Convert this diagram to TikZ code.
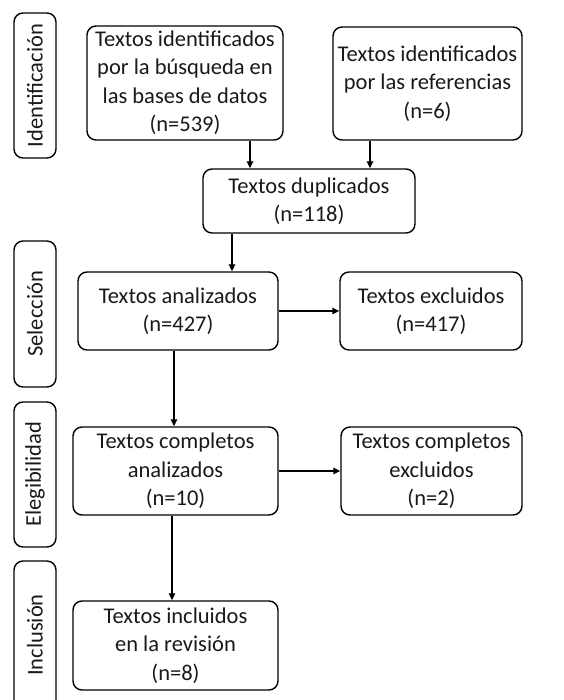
\documentclass[tikz,border=0pt]{standalone}
\usepackage{fontspec}
\setmainfont{Carlito}
\usetikzlibrary{arrows.meta}
\begin{document}
\begin{tikzpicture}[x=1pt,y=-1pt,
  every node/.style={font=\fontsize{22.5}{28.5}\selectfont, text=black!90},
  box/.style={draw, line width=1.4pt, rounded corners=9pt, align=center, inner sep=0pt},
  side/.style={draw, line width=1.4pt, rounded corners=9pt, minimum width=42pt, inner sep=0pt},
  arr/.style={line width=1.1pt, -{Triangle[length=7pt,width=6.5pt]}}]
\useasboundingbox (0,0) rectangle (563,700);
% side boxes
\node[side, minimum height=145pt] (sid) at (35,85.5) {};
\node[rotate=90] (tid) at (sid.center) {Identificación};
\node[side, minimum height=146pt] (ssel) at (35,314) {};
\node[rotate=90] (tsel) at (ssel.center) {Selección};
\node[side, minimum height=145pt] (seleg) at (35,474.5) {};
\node[rotate=90] (teleg) at (seleg.center) {Elegibilidad};
\node[side, minimum height=160pt] (sincl) at (35,641) {};
\node[rotate=90] (tincl) at (35,635) {Inclusión};
% main boxes
\node[box, minimum width=196pt, minimum height=114pt] (b1) at (185,83)
  {Textos identificados\\por la búsqueda en\\las bases de datos\\(n=539)};
\node[box, minimum width=189pt, minimum height=113pt] (b2) at (427.5,83.5)
  {Textos identificados\\por las referencias\\(n=6)};
\node[box, minimum width=212pt, minimum height=64pt] (dup) at (309,201)
  {Textos duplicados\\(n=118)};
\node[box, minimum width=200pt, minimum height=78pt] (an) at (178,311)
  {Textos analizados\\(n=427)};
\node[box, minimum width=182pt, minimum height=78pt] (ex) at (431,311)
  {Textos excluidos\\(n=417)};
\node[box, minimum width=205pt, minimum height=88pt] (can) at (175.5,471)
  {Textos completos\\analizados\\(n=10)};
\node[box, minimum width=181pt, minimum height=88pt] (cex) at (431.5,471)
  {Textos completos\\excluidos\\(n=2)};
\node[box, minimum width=205pt, minimum height=89pt] (inc) at (175.5,645.5)
  {Textos incluidos\\en la revisión\\(n=8)};
% connectors
\draw[arr] (b1.south -| 250,0) -- (dup.north -| 250,0);
\draw[arr] (b2.south -| 370,0) -- (dup.north -| 370,0);
\draw[arr] (dup.south -| 232,0) -- (an.north -| 232,0);
\draw[arr] (an.east) -- (ex.west);
\draw[arr] (an.south -| 174,0) -- (can.north -| 174,0);
\draw[arr] (can.east) -- (cex.west);
\draw[arr] (can.south -| 172,0) -- (inc.north -| 172,0);
\end{tikzpicture}
\end{document}
